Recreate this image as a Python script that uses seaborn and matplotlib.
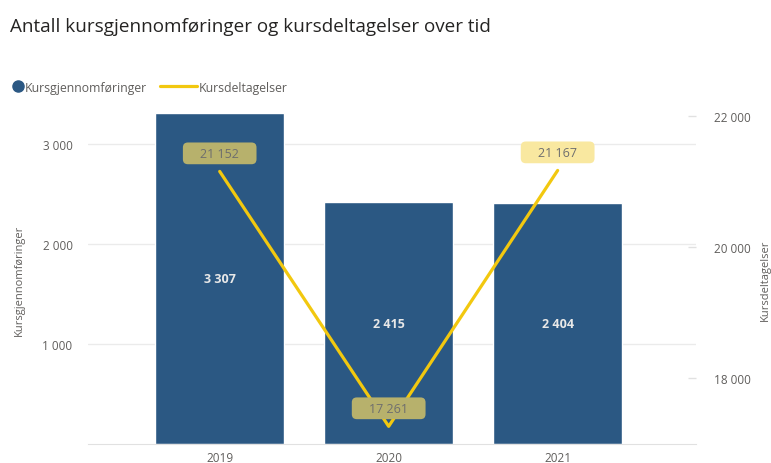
import numpy as np
import pandas as pd
import matplotlib.pyplot as plt
import seaborn as sns
from matplotlib.lines import Line2D

years = ['2019', '2020', '2021']
gjennomforinger = [3307, 2415, 2404]
deltagelser = [21152, 17261, 21167]

left_ticks = [1000, 2000, 3000]
right_ticks = [18000, 20000, 22000]

df = pd.DataFrame({'year': years, 'gj': gjennomforinger, 'delt': deltagelser})

sns.set_style('white')
plt.rcParams['font.family'] = ['Open Sans', 'DejaVu Sans']

bar_col = '#2B5883'
line_col = '#F2C80F'
txt_col = '#605E5C'
grid_col = '#EBEBEB'


def fmt(v):
    return f'{v:,}'.replace(',', ' ')


fig = plt.figure(figsize=(7.71, 4.64), dpi=100)
ax = fig.add_axes([0.114, 0.041, 0.789, 0.733])

sns.barplot(data=df, x='year', y='gj', color=bar_col, width=0.76,
            saturation=1, ax=ax, zorder=2)
ax.set_ylim(0, 3400)
ax.set_xlim(-0.78, 2.82)
ax.set_yticks(left_ticks)
ax.set_yticklabels([fmt(t) for t in left_ticks])
ax.grid(axis='y', color=grid_col, lw=1, zorder=0)
ax.set_axisbelow(True)
for s in ['top', 'right', 'left']:
    ax.spines[s].set_visible(False)
ax.spines['bottom'].set_color('#E1E1E1')
ax.tick_params(axis='y', length=0, pad=11, labelsize=8.5, labelcolor=txt_col)
ax.tick_params(axis='x', length=0, pad=5, labelsize=8.5, labelcolor=txt_col)
ax.set_xlabel('')
ax.set_ylabel('Kursgjennomføringer', color=txt_col, fontsize=8)
ax.yaxis.set_label_coords(-0.104, 0.485)

for i, v in enumerate(gjennomforinger):
    ax.text(i, v / 2, fmt(v), ha='center', va='center', color='#E8E8E8',
            fontsize=9, fontweight='bold', zorder=5)

ax2 = ax.twinx()
x = np.arange(len(years))
sns.lineplot(x=x, y=deltagelser, color=line_col, lw=2.3, ax=ax2, zorder=3)
ax2.set_ylim(16992, 22183)
ax2.set_yticks(right_ticks)
ax2.set_yticklabels([fmt(t) for t in right_ticks])
for s in ['top', 'left', 'right', 'bottom']:
    ax2.spines[s].set_visible(False)
ax2.tick_params(axis='y', direction='in', length=6, width=1, color='#E1E1E1',
                pad=13, labelsize=8.5, labelcolor=txt_col)
ax2.set_ylabel('Kursdeltagelser', color=txt_col, fontsize=8, rotation=90,
               va='center')
ax2.yaxis.set_label_coords(1.113, 0.485)

# label boxes: olive when sitting on a bar, light yellow on white
lim_lo, lim_hi = ax2.get_ylim()
for i, v in enumerate(deltagelser):
    frac = (v - lim_lo) / (lim_hi - lim_lo)
    on_bar = frac * 3400 < gjennomforinger[i]
    fc = '#B7B16C' if on_bar else '#F9E8A0'
    ax2.annotate('    ' + fmt(v) + '    ', (i, v), xytext=(0, 13),
                 textcoords='offset points', ha='center', va='center',
                 fontsize=9, color='#6E6E6E', zorder=6,
                 bbox=dict(boxstyle='round,pad=0.35,rounding_size=0.4',
                           fc=fc, ec='none'))

fig.legend([Line2D([], [], marker='o', ls='none', color=bar_col, markersize=8)],
           ['Kursgjennomføringer'], loc='center left',
           bbox_to_anchor=(0.007, 0.81), frameon=False, fontsize=8.8,
           labelcolor=txt_col, handlelength=0.8, handletextpad=0.15,
           borderaxespad=0.2)
fig.legend([Line2D([], [], color=line_col, lw=2.3)], ['Kursdeltagelser'],
           loc='center left', bbox_to_anchor=(0.198, 0.81), frameon=False,
           fontsize=8.8, labelcolor=txt_col, handlelength=3.0,
           handletextpad=0.2, borderaxespad=0.2)

fig.text(0.013, 0.942, 'Antall kursgjennomføringer og kursdeltagelser over tid',
         fontsize=13.6, color='#252423', va='center')

fig.savefig('out.png', dpi=100)
